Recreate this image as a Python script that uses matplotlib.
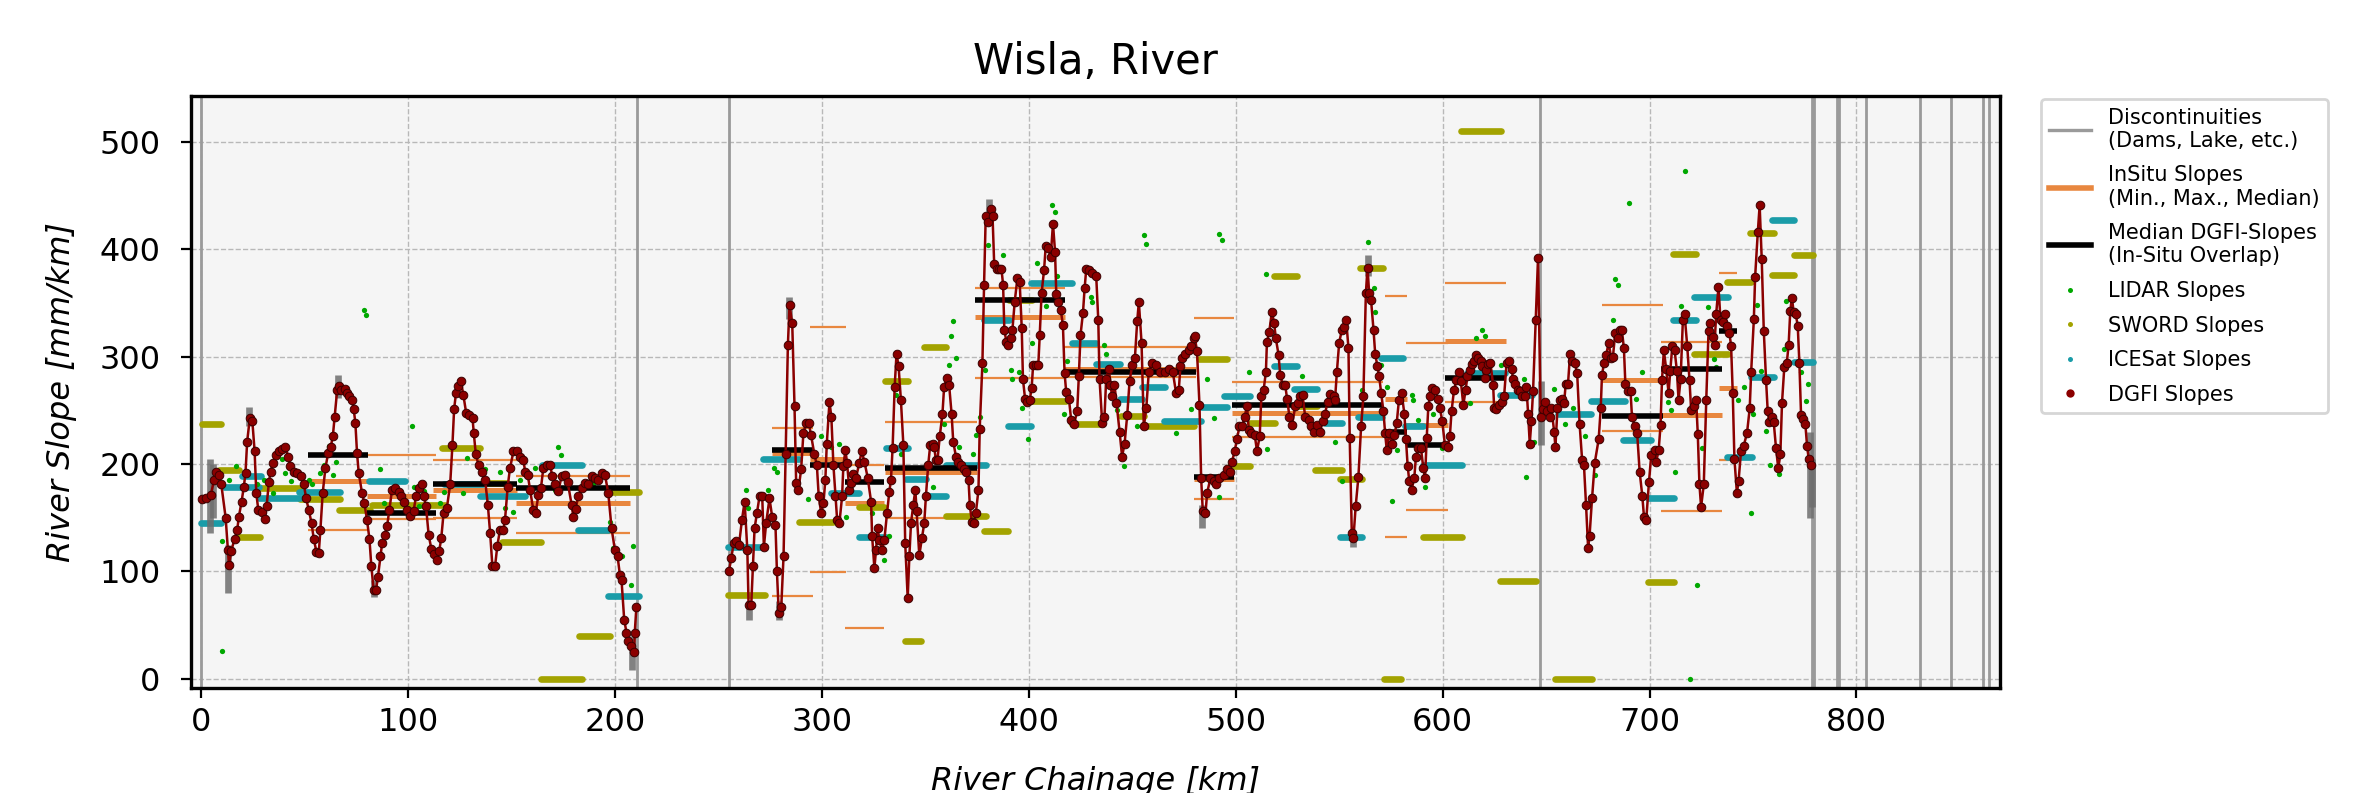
import matplotlib
matplotlib.use("Agg")
import matplotlib.pyplot as plt
from matplotlib.lines import Line2D

# DGFI slopes, first reach (before the 210 km discontinuity)
reach1_km = [
    0.6, 2.3, 4.7, 6.3, 7.4, 8.7, 9.8, 11.9, 13.0, 13.5,
    14.6, 16.2, 17.5, 18.3, 19.6, 20.7, 21.5, 22.3, 23.6, 24.8,
    25.9, 26.7, 27.7, 29.3, 30.7, 31.7, 32.8, 33.6, 34.7, 36.0,
    37.6, 39.2, 40.8, 42.1, 43.2, 44.9, 46.5, 48.1, 49.7, 50.8,
    52.1, 53.4, 54.5, 55.8, 56.9, 57.7, 58.8, 60.1, 61.4, 62.7,
    63.7, 64.6, 65.8, 66.6, 67.8, 69.5, 70.6, 71.4, 73.0, 73.8,
    74.6, 75.4, 76.2, 77.8, 78.9, 80.2, 81.4, 82.3, 83.4, 84.6,
    85.5, 86.7, 87.5, 88.7, 89.9, 91.0, 92.3, 93.9, 95.5, 96.8,
    97.9, 99.5, 101.1, 102.7, 103.9, 105.1, 106.8, 107.6, 108.7, 110.0,
    111.3, 112.4, 114.0, 115.1, 116.1, 117.2, 118.8, 120.4, 121.5, 122.3,
    123.2, 124.4, 125.6, 126.8, 128.1, 129.7, 131.2, 131.8, 132.8, 134.1,
    135.7, 137.3, 138.6, 139.7, 140.8, 142.1, 143.2, 144.5, 146.1, 146.9,
    148.2, 149.3, 151.0, 152.6, 154.2, 155.8, 156.6, 157.9, 159.0, 160.6,
    161.7, 163.0, 164.3, 165.4, 167.0, 168.6, 169.8, 171.0, 172.7, 174.3,
    175.9, 177.2, 179.1, 179.9, 181.0, 182.3, 183.9, 185.5, 187.1, 188.7,
    190.4, 192.0, 193.6, 195.2, 196.8, 198.4, 200.0, 201.3, 202.4, 203.2,
    204.5, 205.6, 206.4, 208.0, 209.3, 209.6, 210.4,
]
reach1_slope = [
    167, 168, 171, 185, 193, 190, 181, 150, 120, 106,
    119, 130, 139, 151, 165, 179, 192, 221, 243, 240,
    212, 173, 157, 155, 149, 161, 183, 193, 201, 208,
    212, 214, 216, 207, 198, 193, 192, 189, 181, 168,
    157, 145, 130, 118, 117, 139, 173, 196, 210, 216,
    226, 244, 269, 273, 269, 270, 266, 263, 260, 251,
    238, 210, 192, 173, 164, 148, 130, 105, 83, 83,
    95, 114, 126, 134, 142, 157, 176, 178, 174, 170,
    165, 157, 152, 156, 170, 178, 181, 170, 161, 134,
    121, 116, 111, 119, 131, 154, 159, 181, 218, 251,
    266, 273, 277, 264, 248, 246, 243, 229, 209, 199,
    193, 185, 162, 136, 105, 105, 124, 139, 139, 148,
    179, 196, 212, 212, 207, 204, 193, 190, 176, 157,
    154, 171, 178, 196, 199, 199, 189, 181, 175, 189,
    190, 183, 162, 151, 158, 170, 178, 182, 181, 189,
    187, 185, 192, 190, 173, 140, 120, 114, 97, 92,
    55, 43, 35, 30, 25, 43, 67,
]

# DGFI slopes, second reach (255 km to 778 km)
reach2_km = [
    255.1, 256.2, 257.4, 258.7, 260.0, 261.4, 262.7, 264.0, 264.6, 265.9,
    266.7, 267.5, 268.6, 269.9, 271.2, 272.0, 273.1, 274.7, 276.0, 277.6,
    278.3, 279.2, 280.4, 281.5, 282.5, 283.6, 284.4, 285.7, 286.8, 287.6,
    288.7, 290.0, 291.1, 292.4, 293.7, 294.8, 296.4, 297.6, 298.5, 299.7,
    300.8, 301.7, 302.4, 303.7, 304.6, 305.6, 306.6, 307.4, 308.5, 309.8,
    310.4, 311.4, 312.2, 313.3, 314.1, 315.3, 316.5, 318.1, 319.3, 320.6,
    322.2, 323.8, 324.3, 325.4, 326.2, 327.0, 327.8, 329.1, 330.2, 331.5,
    332.6, 333.4, 334.2, 335.2, 336.1, 337.1, 338.2, 339.4, 340.3, 341.5,
    342.3, 343.1, 344.2, 345.2, 345.8, 347.1, 348.4, 349.5, 350.3, 351.4,
    352.4, 353.5, 354.3, 355.1, 355.9, 357.0, 358.3, 359.1, 360.3, 361.5,
    362.7, 363.5, 364.8, 365.9, 367.2, 368.8, 369.9, 370.9, 371.5, 372.5,
    373.6, 374.4, 375.7, 376.3, 377.6, 378.4, 379.2, 380.5, 381.6, 382.5,
    383.3, 384.5, 385.7, 386.8, 387.6, 388.2, 389.2, 390.2, 391.3, 392.1,
    393.2, 394.5, 395.6, 396.6, 397.2, 398.2, 399.3, 400.5, 401.4, 402.1,
    403.3, 404.6, 405.3, 406.2, 407.4, 408.2, 409.3, 410.6, 411.7, 412.7,
    413.3, 414.3, 415.4, 416.5, 417.3, 418.1, 419.4, 420.5, 421.8, 423.4,
    424.2, 425.0, 426.2, 427.0, 427.8, 429.1, 430.7, 432.6, 433.6, 434.2,
    435.5, 436.6, 437.4, 438.7, 439.5, 440.3, 441.4, 442.4, 443.9, 445.1,
    446.3, 447.6, 448.7, 450.0, 451.3, 452.4, 453.2, 454.5, 455.6, 456.8,
    458.0, 459.6, 461.6, 463.6, 465.7, 467.7, 469.6, 471.2, 472.5, 473.3,
    474.1, 475.7, 477.3, 478.6, 479.7, 480.2, 481.3, 482.5, 483.3, 484.1,
    485.4, 486.2, 487.8, 489.4, 490.5, 491.8, 494.2, 495.8, 497.4, 498.2,
    499.5, 500.6, 501.8, 503.1, 504.3, 505.5, 506.3, 507.5, 509.2, 510.3,
    511.6, 512.4, 513.5, 514.6, 515.1, 516.2, 517.5, 518.6, 519.4, 520.7,
    521.5, 522.7, 523.9, 524.8, 526.0, 527.2, 528.8, 530.0, 531.2, 532.3,
    533.6, 535.2, 536.5, 537.6, 539.2, 540.8, 542.0, 543.2, 544.4, 545.6,
    547.3, 548.0, 548.9, 550.0, 551.3, 552.4, 553.4, 554.5, 555.1, 556.1,
    556.9, 558.0, 559.3, 560.6, 561.7, 562.9, 563.7, 564.5, 565.4, 566.6,
    567.4, 568.5, 569.3, 570.3, 571.4, 572.2, 573.0, 574.1, 575.4, 576.7,
    577.8, 578.9, 580.2, 581.5, 582.3, 583.1, 583.9, 585.0, 586.3, 587.1,
    588.3, 589.5, 590.7, 591.5, 592.3, 593.1, 593.9, 595.0, 596.3, 597.6,
    598.7, 599.8, 601.1, 602.4, 603.5, 604.3, 605.5, 606.7, 607.9, 608.8,
    610.0, 611.1, 612.0, 613.2, 614.0, 615.3, 616.1, 617.2, 618.5, 619.1,
    620.4, 621.2, 622.0, 623.1, 624.4, 624.9, 626.0, 627.2, 628.5, 629.7,
    630.9, 632.1, 633.3, 634.1, 635.2, 636.2, 637.3, 638.4, 639.7, 640.5,
    641.3, 642.1, 642.9, 643.7, 645.0, 646.1, 647.4, 648.5, 649.7, 650.6,
    651.8, 652.6, 653.9, 654.5, 655.5, 656.6, 657.7, 658.7, 659.5, 660.6,
    661.6, 662.5, 663.8, 665.0, 666.2, 667.4, 668.3, 669.3, 670.3, 671.0,
    672.2, 673.5, 675.4, 676.4, 677.0, 678.0, 679.1, 680.2, 681.5, 682.3,
    683.4, 684.7, 685.5, 686.6, 687.6, 688.3, 689.5, 690.8, 691.5, 692.8,
    694.0, 695.2, 696.5, 697.3, 698.4, 699.7, 700.8, 702.4, 703.2, 704.4,
    705.3, 706.0, 706.9, 708.0, 709.2, 710.0, 711.0, 712.1, 713.2, 714.0,
    715.0, 716.1, 716.9, 718.2, 719.3, 720.1, 721.4, 722.5, 723.3, 724.1,
    724.9, 726.2, 727.4, 728.5, 729.4, 730.6, 731.4, 732.2, 733.3, 734.3,
    735.4, 736.5, 737.5, 738.6, 739.4, 740.2, 741.0, 742.2, 743.0, 744.2,
    745.5, 747.1, 748.4, 749.1, 750.4, 751.0, 752.3, 753.2, 754.2, 755.2,
    756.3, 757.1, 757.9, 759.0, 760.0, 761.1, 762.2, 763.2, 764.0, 765.1,
    766.3, 767.2, 768.0, 768.8, 769.6, 770.6, 771.6, 772.4, 773.2, 774.3,
    775.3, 776.1, 776.9, 778.0,
]
reach2_slope = [
    100, 112, 126, 128, 125, 148, 165, 120, 69, 69,
    105, 140, 154, 170, 170, 123, 145, 168, 151, 143,
    100, 61, 67, 114, 209, 311, 348, 331, 254, 182,
    176, 195, 229, 238, 238, 227, 209, 199, 170, 154,
    164, 185, 219, 258, 244, 199, 170, 148, 145, 170,
    198, 213, 201, 176, 182, 191, 187, 201, 212, 202,
    187, 165, 133, 103, 120, 140, 129, 120, 129, 154,
    174, 185, 215, 272, 303, 291, 260, 218, 126, 75,
    114, 145, 162, 176, 156, 115, 131, 145, 170, 199,
    218, 219, 216, 204, 204, 226, 247, 272, 280, 274,
    247, 221, 207, 202, 199, 195, 193, 185, 162, 146,
    145, 154, 176, 233, 294, 367, 431, 426, 438, 431,
    386, 382, 382, 382, 367, 325, 314, 311, 317, 325,
    351, 373, 370, 327, 279, 261, 258, 260, 271, 292,
    292, 292, 320, 359, 381, 403, 401, 393, 424, 398,
    358, 351, 344, 330, 285, 267, 261, 241, 237, 249,
    282, 320, 341, 364, 382, 381, 378, 375, 334, 279,
    238, 244, 279, 289, 274, 263, 274, 257, 230, 207,
    219, 246, 277, 292, 299, 333, 351, 313, 235, 252,
    286, 294, 292, 286, 286, 289, 286, 266, 269, 291,
    299, 303, 306, 310, 317, 319, 305, 255, 187, 156,
    154, 173, 187, 184, 181, 187, 190, 195, 193, 202,
    212, 223, 235, 235, 244, 254, 232, 229, 227, 212,
    226, 263, 269, 286, 314, 323, 342, 331, 317, 302,
    283, 274, 274, 261, 244, 236, 254, 257, 263, 264,
    244, 241, 235, 230, 236, 230, 240, 247, 258, 265,
    263, 260, 286, 313, 325, 328, 334, 308, 224, 136,
    131, 161, 188, 235, 263, 359, 383, 359, 353, 325,
    303, 291, 282, 266, 249, 229, 213, 229, 219, 227,
    238, 260, 266, 247, 223, 198, 184, 176, 187, 207,
    215, 215, 196, 187, 224, 254, 263, 271, 269, 261,
    252, 240, 218, 216, 226, 249, 269, 278, 286, 277,
    255, 269, 282, 288, 293, 296, 302, 299, 296, 291,
    280, 288, 293, 294, 274, 252, 251, 255, 258, 263,
    294, 296, 289, 279, 275, 269, 268, 263, 263, 272,
    247, 219, 240, 268, 334, 392, 244, 251, 258, 249,
    244, 252, 230, 216, 252, 260, 261, 257, 275, 275,
    303, 296, 294, 285, 237, 204, 199, 162, 122, 133,
    168, 201, 223, 252, 283, 294, 302, 313, 299, 300,
    322, 317, 325, 325, 308, 275, 268, 268, 244, 235,
    229, 193, 170, 151, 148, 183, 208, 213, 202, 213,
    236, 278, 306, 289, 266, 287, 310, 306, 287, 260,
    279, 334, 340, 310, 278, 250, 254, 260, 228, 181,
    160, 181, 260, 324, 331, 318, 311, 340, 365, 334,
    332, 340, 329, 322, 310, 266, 205, 173, 184, 212,
    217, 229, 252, 286, 335, 374, 416, 441, 391, 324,
    278, 249, 239, 244, 239, 215, 196, 209, 257, 290,
    294, 311, 343, 355, 342, 340, 329, 294, 246, 242,
    237, 217, 205, 199,
]

# DGFI uncertainty bars that stand out behind the curve (km, low, high)
dgfi_err_km = [4.5, 6.0, 13.0, 23.3, 66.0, 83.5, 208.5, 264.8, 279.5,
               284.0, 381.0, 483.5, 556.5, 563.8, 647.5, 777.5, 778.3]
dgfi_err_low = [136, 150, 80, 235, 262, 76, 8, 55, 55,
                335, 428, 140, 123, 375, 218, 150, 160]
dgfi_err_high = [205, 200, 125, 253, 283, 92, 40, 72, 72,
                 356, 447, 162, 138, 395, 277, 230, 205]

# In-situ reaches: min / median / max slope, plus median DGFI over the overlap
reach_start = [51.5, 80.0, 112.0, 152.0, 276.0, 294.5, 311.0, 330.5, 374.0,
               417.0, 480.0, 498.0, 572.0, 582.5, 601.0, 677.0, 705.5, 733.5]
reach_end = [80.5, 113.5, 152.5, 207.5, 295.7, 311.7, 330.2, 375.2, 417.5,
             481.0, 499.0, 571.0, 583.0, 602.4, 630.5, 706.5, 735.0, 742.3]
insitu_min = [139, 149, 150, 136, 77, 99, 47, 150, 280,
              281, 167, 225, 132, 157, 258, 231, 156, 204]
insitu_median = [184, 170, 176, 164, 210, 205, 164, 193, 337,
                 289, 186, 248, 261, 236, 315, 278, 246, 271]
insitu_max = [209, 208, 204, 189, 234, 328, 199, 239, 364,
              309, 336, 276, 357, 313, 369, 348, 314, 378]
dgfi_median = [208, 154, 181, 178, 213, 199, 183, 196, 353,
               286, 188, 255, 230, 218, 280, 245, 289, 324]

# LIDAR point slopes
lidar_km = [
    10.0, 10.3, 13.5, 16.7, 27.2, 30.4, 34.7, 39.2, 40.8, 43.7,
    52.1, 53.7, 57.7, 59.3, 62.0, 63.7, 65.0, 78.9, 79.6, 86.7,
    88.3, 101.9, 102.7, 105.1, 107.6, 115.6, 117.2, 126.8, 128.5, 137.3,
    144.5, 147.0, 151.0, 154.2, 161.4, 171.0, 172.7, 173.8, 189.5, 197.6,
    199.2, 203.2, 207.7, 208.8,
    263.5, 264.3, 274.0, 276.7, 278.3, 293.3, 299.7, 304.5, 308.5, 311.7,
    324.3, 330.2, 332.6, 335.9, 338.3, 353.5, 359.2, 361.6, 362.4, 363.5,
    364.8, 366.4, 373.2, 374.4, 376.3, 378.9, 380.2, 387.6, 391.3, 392.1,
    395.3, 396.9, 399.4, 401.8, 404.2, 408.2, 411.4, 412.7, 413.8, 417.0,
    418.6, 429.9, 430.7, 436.3, 437.1, 442.8, 446.0, 452.4, 455.6, 456.8,
    471.2, 478.4, 486.2, 489.4, 491.8, 492.1, 493.4, 506.3, 514.6, 515.1,
    532.0, 548.0, 551.3, 560.9, 564.1, 566.6, 567.4, 570.3, 573.0, 575.4,
    577.8, 585.0, 585.8, 588.3, 591.5, 595.5, 599.5, 613.2, 616.1, 619.1,
    620.4, 628.1, 639.4, 640.5, 644.2, 653.9, 659.0, 663.0, 668.6, 673.8,
    682.3, 683.1, 684.7, 690.3, 693.6, 696.5, 708.9, 710.5, 712.1, 715.3,
    716.9, 719.3, 723.0, 725.3, 728.2, 731.1, 732.2, 742.6, 745.8, 749.1,
    749.9, 752.0, 753.9, 756.3, 758.2, 762.7, 765.1, 765.9, 773.2, 775.6,
    776.7,
]
lidar_slope = [
    26, 128, 185, 198, 181, 185, 173, 205, 192, 184,
    185, 181, 192, 199, 217, 190, 202, 344, 339, 195,
    164, 235, 179, 161, 175, 164, 174, 173, 206, 195,
    193, 159, 155, 185, 196, 176, 216, 208, 181, 146,
    122, 114, 87, 124,
    176, 159, 176, 196, 193, 167, 226, 216, 219, 151,
    154, 111, 133, 264, 209, 179, 237, 292, 319, 333,
    299, 216, 209, 227, 244, 288, 404, 395, 288, 279,
    286, 252, 223, 313, 387, 347, 441, 435, 375, 247,
    296, 356, 351, 311, 303, 250, 198, 235, 413, 405,
    229, 251, 279, 243, 169, 414, 409, 286, 377, 214,
    282, 221, 184, 269, 407, 364, 342, 292, 272, 166,
    213, 264, 260, 241, 179, 247, 215, 257, 317, 325,
    319, 292, 279, 188, 221, 270, 237, 252, 226, 190,
    334, 372, 367, 443, 261, 286, 258, 250, 193, 347,
    473, 0, 87, 215, 346, 298, 290, 260, 272, 154,
    247, 348, 287, 231, 199, 191, 307, 352, 286, 259,
    275,
]

# SWORD reach slopes (start km, end km, slope)
sword_start = [0.3, 8.7, 18.3, 28.8, 48.0, 66.6, 82.6, 116.4, 135.7, 145.3,
               164.3, 182.6, 197.6, 254.7, 289.2, 318.2, 330.7, 340.0, 349.5, 360.0,
               378.5, 390.5, 401.8, 421.0, 444.4, 456.4, 482.1, 497.4, 507.0, 518.3,
               530.4, 538.4, 550.5, 560.1, 571.6, 590.7, 609.0, 627.6, 654.5, 699.2,
               711.3, 721.7, 737.5, 748.3, 759.0, 769.6]
sword_end = [9.5, 18.3, 28.3, 48.0, 67.4, 81.8, 118.0, 134.9, 147.7, 164.3,
             183.9, 197.6, 211.6, 272.4, 305.3, 330.2, 341.5, 348.0, 360.0, 379.2,
             390.2, 401.8, 417.8, 434.0, 455.6, 480.0, 495.8, 507.0, 519.1, 529.6,
             539.2, 551.3, 560.9, 571.4, 580.0, 609.2, 628.0, 645.3, 672.0, 712.0,
             722.5, 737.8, 749.1, 760.3, 770.0, 779.1]
sword_slope = [237, 194, 132, 178, 167, 157, 162, 215, 182, 127,
               0, 40, 174, 78, 146, 160, 277, 35, 309, 152,
               138, 353, 259, 237, 245, 235, 298, 198, 238, 375,
               254, 194, 186, 383, 0, 132, 510, 91, 0, 90,
               396, 303, 370, 415, 376, 395]

# ICESat reach slopes (start km, end km, slope)
icesat_start = [-0.2, 11.1, 19.9, 28.0, 47.3, 81.0, 117.2, 134.9, 164.6, 182.3,
                196.8, 254.7, 271.5, 304.5, 318.2, 331.0, 340.7, 350.3, 360.0, 378.5,
                390.2, 401.0, 420.7, 432.3, 443.9, 454.8, 465.3, 483.0, 494.2, 518.3,
                528.0, 543.2, 550.5, 559.3, 570.3, 581.8, 590.7, 612.0, 627.6, 655.8,
                671.9, 687.1, 699.2, 711.3, 721.7, 737.5, 749.1, 759.0, 769.6]
icesat_end = [9.5, 28.0, 28.8, 48.0, 67.4, 98.7, 136.5, 156.6, 183.9, 196.8,
              211.6, 272.4, 289.2, 318.2, 331.0, 341.5, 350.3, 360.0, 379.2, 390.5,
              401.0, 420.7, 432.6, 443.9, 454.8, 466.0, 483.0, 495.8, 507.0, 529.6,
              539.2, 551.3, 561.0, 570.6, 581.0, 590.7, 609.2, 630.0, 643.0, 671.9,
              687.9, 700.8, 712.0, 722.5, 737.8, 749.4, 760.3, 770.0, 779.1]
icesat_slope = [145, 179, 189, 168, 174, 184, 181, 170, 199, 139,
                77, 123, 205, 173, 132, 215, 186, 170, 199, 334,
                235, 369, 313, 293, 261, 272, 240, 253, 263, 291,
                270, 238, 132, 244, 299, 235, 199, 285, 264, 247,
                259, 222, 168, 334, 356, 207, 281, 427, 295]

# Dams, lakes and other breaks along the river
discontinuities = [0.1, 210.9, 255.1, 646.9, 778.5, 779.3, 790.8, 791.5,
                   804.5, 830.5, 845.5, 861.1, 864.0]

GRAY = "#9a9a9a"
ORANGE = "#e8873f"
OLIVE = "#a3a300"
TEAL = "#1a9ca8"
GREEN = "#00a800"
DGFI_RED = "#8b0000"


def main():
    fig = plt.figure(figsize=(11.81, 3.965), dpi=200)
    ax = fig.add_axes([0.0809, 0.1324, 0.7658, 0.7466])
    ax.set_facecolor("#f5f5f5")
    ax.grid(True, ls="--", lw=0.5, color="#b8b8b8")
    ax.set_axisbelow(True)

    for d in discontinuities:
        ax.axvline(d, color=GRAY, lw=1.0, zorder=1)

    # in-situ min / max (thin) and median (thick)
    ax.hlines(insitu_min, reach_start, reach_end, color=ORANGE, lw=0.8, zorder=2)
    ax.hlines(insitu_max, reach_start, reach_end, color=ORANGE, lw=0.8, zorder=2)
    ax.hlines(insitu_median, reach_start, reach_end, color=ORANGE, lw=1.8, zorder=2)

    ax.hlines(sword_slope, sword_start, sword_end, color=OLIVE, lw=2.4,
              capstyle="round", zorder=3)
    ax.hlines(icesat_slope, icesat_start, icesat_end, color=TEAL, lw=2.4,
              capstyle="round", zorder=3)

    ax.plot(lidar_km, lidar_slope, "o", color=GREEN, ms=1.9, mew=0, zorder=4)

    ax.hlines(dgfi_median, reach_start, reach_end, color="black", lw=2.0, zorder=5)

    ax.vlines(dgfi_err_km, dgfi_err_low, dgfi_err_high, color="#6e6e6e",
              lw=2.4, alpha=0.85, zorder=5.5)
    for km, slope in [(reach1_km, reach1_slope), (reach2_km, reach2_slope)]:
        ax.plot(km, slope, "-o", color=DGFI_RED, lw=0.9, ms=3.1,
                mec="#3a0000", mew=0.35, zorder=6)

    ax.set_xlim(-4.8, 869.3)
    ax.set_ylim(-8.7, 543)
    ax.set_xticks(range(0, 900, 100))
    ax.set_yticks(range(0, 600, 100))
    ax.tick_params(labelsize=11.5)
    ax.tick_params(axis="y", pad=7.5)
    for s in ax.spines.values():
        s.set_linewidth(1.2)

    ax.set_title("Wisla, River", fontsize=15, pad=8)
    ax.set_xlabel("River Chainage [km]", fontsize=11.5, style="italic", labelpad=10)
    ax.set_ylabel("River Slope [mm/km]", fontsize=11.5, style="italic", labelpad=8)

    handles = [
        Line2D([], [], color=GRAY, lw=1.2),
        Line2D([], [], color=ORANGE, lw=2.0),
        Line2D([], [], color="black", lw=2.0),
        Line2D([], [], ls="", marker="o", color=GREEN, ms=1.8, mew=0),
        Line2D([], [], ls="", marker="o", color=OLIVE, ms=1.8, mew=0),
        Line2D([], [], ls="", marker="o", color=TEAL, ms=1.8, mew=0),
        Line2D([], [], ls="", marker="o", color=DGFI_RED, ms=3.0, mew=0),
    ]
    labels = [
        "Discontinuities\n(Dams, Lake, etc.)",
        "InSitu Slopes\n(Min., Max., Median)",
        "Median DGFI-Slopes\n(In-Situ Overlap)",
        "LIDAR Slopes",
        "SWORD Slopes",
        "ICESat Slopes",
        "DGFI Slopes",
    ]
    ax.legend(handles, labels, loc="upper left", bbox_to_anchor=(1.017, 1.012),
              fontsize=7.5, frameon=True, edgecolor="#cccccc", labelspacing=0.7)

    fig.savefig("out.png", dpi=200)


if __name__ == "__main__":
    main()
